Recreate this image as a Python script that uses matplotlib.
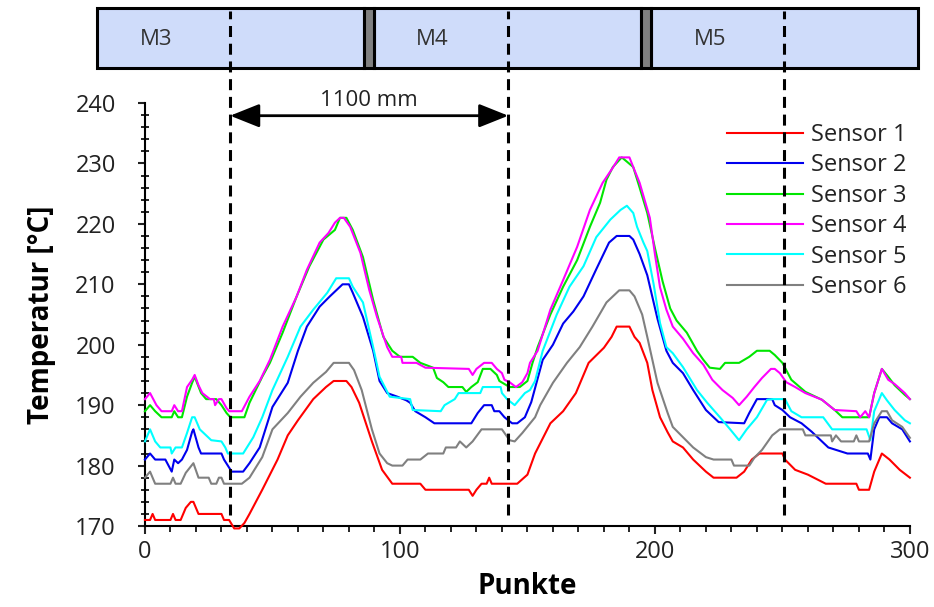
import matplotlib.pyplot as plt
from matplotlib.patches import Rectangle
from matplotlib.ticker import MultipleLocator

plt.rcParams['font.family'] = ['Open Sans', 'DejaVu Sans']

# Temperature curves as (Punkte, °C) break points
sensor1_x = [0, 2, 3, 4, 10, 11, 12, 14, 16, 18, 19, 21, 30, 31, 33, 35, 37, 39, 41, 46, 52, 56, 60, 66, 71, 74, 79, 81,
             84, 89, 93, 97, 108, 110, 127, 128.5, 130, 132, 134, 135, 136, 146, 150, 153, 159, 164, 169, 174, 180, 183,
             185, 190, 192, 194, 197, 199, 202, 205, 207, 211, 215, 220, 223, 232, 235, 238, 241, 250, 251, 255, 260,
             267, 279, 280, 284, 286, 289, 292, 296, 300]
sensor1_t = [171, 171, 172, 171, 171, 172, 171, 171, 173, 174, 174, 172, 172, 171, 171, 169.6, 169.6, 170.5, 172, 176,
             181, 185, 187.5, 191, 193, 194, 194, 193, 190.4, 184, 179.3, 177, 177, 176, 176, 175, 176, 177, 177, 178,
             177, 177, 178.5, 182, 187, 189, 192, 197, 199.5, 201.3, 203, 203, 201.3, 200.3, 197, 192.5, 188, 185.5,
             184, 183, 181, 179, 178, 178, 179, 181, 182, 182, 181, 179.3, 178.5, 177, 177, 176, 176, 179, 182, 181,
             179.3, 178]

sensor2_x = [0, 2, 4, 8, 10.5, 11.5, 13, 14.5, 16.5, 18.5, 19, 21, 22, 30, 31, 32.5, 34, 38.5, 41, 45, 50, 56, 60, 63.5,
             68.5, 72.5, 76.5, 77.5, 80, 81.5, 85.5, 89.5, 92, 95, 99, 102.5, 104, 106, 110, 113.5, 128, 130.5, 133,
             136, 137, 139, 141, 144, 146, 149, 151.5, 156, 160, 164, 168, 172, 177, 182, 185, 190, 191.5, 194, 197,
             201, 204.5, 207, 211, 215, 220, 225, 235, 237, 240, 246, 247, 250, 253, 257.5, 261.5, 268, 275.5, 283.5,
             284.5, 286, 288, 291, 293, 297, 300]
sensor2_t = [181, 182, 181, 181, 179, 181, 180.4, 181, 182.6, 185.6, 186, 183, 182, 182, 181, 180, 179, 179, 180.4, 183,
             189.7, 193.7, 199, 203, 206.3, 208, 209.6, 210, 210, 208.6, 204.6, 199, 194, 192, 191.4, 190.8, 190.4,
             189, 188, 187, 187, 188.7, 190, 190, 189, 189, 188, 187, 187, 188, 190.5, 197.5, 200, 203.5, 205.5, 208,
             212.5, 216.9, 218, 218, 217.4, 215, 211.5, 204.3, 199, 197, 195.3, 192.5, 189.2, 187.2, 187, 188.7, 191,
             191, 190, 189.2, 188, 187, 185.6, 183, 182, 182, 181, 186, 188, 188, 187, 186, 184]

sensor3_x = [0, 2, 4, 6.5, 10.5, 11.5, 13, 14.5, 16.5, 18.5, 19.5, 22, 24, 28, 30, 32, 33.5, 39, 41, 46, 49, 54, 59.5,
             64.5, 70, 74.5, 76.5, 79, 81.5, 85.5, 89.5, 93.5, 97, 100, 105, 108, 113, 114.5, 117, 119, 124.5, 126,
             128, 130.5, 132.5, 135.5, 138, 139, 143, 147, 150, 152, 154, 159, 164, 169.5, 174.5, 178.5, 181, 183.5,
             187, 189, 191.5, 194, 197, 200, 203, 206, 208.5, 212.5, 216.5, 219, 221.5, 225.5, 227.5, 233, 237, 240,
             245, 247, 250, 253.5, 259, 265.5, 270.5, 273.5, 284, 286, 289, 291.5, 294, 298, 300]
sensor3_t = [189, 190, 189, 188, 188, 189, 188, 188, 191.4, 193.7, 194.7, 192, 191, 191, 190, 188.7, 188, 188, 190.4,
             194.7, 197, 202, 208, 213, 217.4, 219, 221, 221, 219, 214.5, 207.4, 201.3, 199, 198, 198, 197, 196.2,
             194.5, 193.8, 193, 193, 192.2, 193, 193.8, 196, 196, 195, 194, 193, 193, 194, 197, 199.6, 205, 209.6,
             214, 219.5, 223.5, 227.3, 229.4, 231, 230.3, 229.4, 226, 221.8, 216, 210.5, 206, 204, 202, 199, 197.5,
             196.2, 196, 197, 197, 198, 199, 199, 198.3, 197, 194.2, 192.2, 190.9, 189.2, 188, 188, 192, 196, 194.7,
             193.3, 191.7, 191]

sensor4_x = [0, 2, 4.5, 6.5, 10.5, 11.5, 13, 14.5, 16.5, 18.5, 19.5, 21, 22.5, 25.5, 27, 27.5, 29, 30, 32, 33, 38, 41,
             45, 49, 54, 59.5, 63.5, 68.5, 72, 74.5, 76.5, 78, 80.5, 84.5, 88, 91, 95, 97, 100.5, 101, 106.5, 110, 127,
             128.5, 130, 133, 136, 138, 140, 141, 143, 145.5, 148, 150, 151, 154, 159, 164, 169.5, 174.5, 179.5, 183.5,
             186, 190, 191.5, 194, 198, 200, 202, 204.5, 207, 211, 215, 219, 222.5, 226.5, 230.5, 233, 236, 239, 242,
             245.5, 247, 249, 251.5, 255, 259, 265.5, 270.5, 279, 280.5, 282.5, 284, 286, 289, 291.5, 294, 298, 300]
sensor4_t = [191, 192, 190, 189, 189, 190, 189, 189, 193, 194.2, 195, 193.3, 192, 191, 191, 190, 191, 191, 189.5, 189,
             189, 191.4, 194, 197.5, 203, 208, 212.4, 216.9, 218.5, 220.2, 221, 221, 219.5, 215.2, 209, 204.6, 199.6,
             198, 198, 197, 197, 196.2, 196, 195, 196, 197, 197, 196, 195.3, 194.2, 193.8, 193, 193.8, 195.3, 197, 199,
             205.8, 210.7, 216.2, 222.3, 226.8, 229.3, 231, 231, 229.4, 226.8, 221, 215, 209.5, 205.8, 203, 201,
             198.6, 196.7, 194.2, 192.5, 191.2, 190, 191.4, 193, 194.5, 196, 196, 195.3, 193.8, 193, 192, 190.9,
             189.2, 189, 188, 189, 188, 192, 196, 194.2, 193.5, 192, 191]

sensor5_x = [0, 2, 4, 6, 10, 10.5, 12, 14.5, 16.5, 18.5, 19.5, 21.5, 24, 26, 30, 31.5, 32.5, 38.5, 42.5, 46, 50, 56,
             61, 66, 71.5, 75, 80, 81.5, 85.5, 89.5, 92, 96, 104, 105, 116, 117.5, 121.5, 123, 131.5, 132.5, 139.5,
             140, 142, 145, 146, 149, 151, 153, 156, 161.5, 166.5, 172, 177, 182.5, 186.5, 189, 191.5, 193, 195.5, 197,
             199.5, 202, 204.5, 207, 211, 216.5, 220.5, 225.5, 229.5, 233, 236, 240, 244, 246, 251, 253.5, 257.5, 266,
             269.5, 283, 284.5, 286, 289, 291, 294, 298, 300]
sensor5_t = [184, 186, 184, 183, 183, 182, 183, 183, 185.4, 188, 188, 186, 185, 184.2, 184, 183, 182, 182, 184.7, 188,
             192.5, 198, 203, 205.8, 208.6, 211, 211, 209.6, 207, 199.6, 194.7, 191.4, 191, 189.2, 189, 190, 191, 192,
             192, 193, 193, 192, 191, 190, 190.5, 192, 192.5, 194, 199, 205, 209.6, 213, 217.8, 220.7, 222.3, 223,
             221.8, 219.5, 216.9, 215.5, 210, 203.6, 199.6, 198.6, 196.3, 192.5, 190.4, 188, 186, 184.2, 186, 188,
             190.9, 191, 191, 189, 188, 188, 186, 186, 184.2, 189, 192, 190.8, 189.2, 187.5, 187]

sensor6_x = [0, 2, 4, 10, 11, 12, 14, 16, 19, 21, 25, 26, 28, 29, 30, 31, 38, 41, 46, 50, 56, 61, 66, 71, 74, 80, 82,
             85, 89, 92, 95, 97, 101, 103, 108, 111, 117, 118, 122, 123.5, 126, 128.5, 132, 140, 143, 145, 148, 153,
             155, 160, 165.5, 170.5, 175.5, 181, 186, 190, 192, 195, 197, 201, 205, 207, 211, 215, 220, 223, 230,
             231, 237, 239, 242, 246, 249, 258, 259, 269, 269.5, 271, 273, 278, 279, 280, 284, 286, 289, 291, 293,
             297, 300]
sensor6_t = [178, 179, 177, 177, 178, 177, 177, 178.8, 180.4, 178, 178, 177, 177, 178, 178, 177, 177, 178, 181.4, 186,
             188.7, 191.4, 193.7, 195.5, 197, 197, 195.8, 192.5, 186, 182, 180.4, 180, 180, 181, 181, 182, 182, 183,
             183, 184, 183, 184, 186, 186, 184.2, 184, 185.4, 188, 190, 193.7, 197, 199.6, 203, 207, 209, 209, 208,
             205, 201.3, 193.7, 188.7, 186.4, 184.7, 183, 181.4, 181, 181, 180, 180, 181.3, 182.6, 185, 186, 186, 185,
             185, 184, 185, 184, 184, 185, 184, 184, 187, 189, 189, 187.5, 186.4, 184.6]

series_x = [sensor1_x, sensor2_x, sensor3_x, sensor4_x, sensor5_x, sensor6_x]
series_t = [sensor1_t, sensor2_t, sensor3_t, sensor4_t, sensor5_t, sensor6_t]
labels = ['Sensor 1', 'Sensor 2', 'Sensor 3', 'Sensor 4', 'Sensor 5', 'Sensor 6']
colors = ['#ff0000', '#0000ee', '#00e600', '#ff00ff', '#00ffff', '#808080']

zones = ['M3', 'M4', 'M5']
marker_x = [33.4, 142.5, 250.8]
distance_label = '1100 mm'

fig = plt.figure(figsize=(9.34, 6.07), dpi=100)
ax = fig.add_axes([0.1552, 0.1334, 0.819, 0.6969])

for xs, ts, lab, col in zip(series_x, series_t, labels, colors):
    ax.plot(xs, ts, color=col, lw=1.5, label=lab, clip_on=False, zorder=3)

ax.set_xlim(0, 300)
ax.set_ylim(170, 240)
ax.xaxis.set_major_locator(MultipleLocator(100))
ax.xaxis.set_minor_locator(MultipleLocator(10))
ax.yaxis.set_major_locator(MultipleLocator(10))
ax.yaxis.set_minor_locator(MultipleLocator(2))
for side in ['top', 'right']:
    ax.spines[side].set_visible(False)
for side in ['left', 'bottom']:
    ax.spines[side].set_linewidth(1.5)
ax.tick_params(axis='x', which='major', direction='out', length=6, width=1.5, labelsize=17, pad=4, colors='#222222')
ax.tick_params(axis='x', which='minor', direction='out', length=4, width=1.2)
ax.tick_params(axis='y', which='major', direction='out', length=5, width=1.5, labelsize=17, pad=16, colors='#222222')
ax.tick_params(axis='y', which='minor', direction='inout', length=6, width=1.2)

ax.set_xlabel('Punkte', fontsize=20, fontweight='bold', labelpad=6)
ax.set_ylabel('Temperatur [°C]', fontsize=20, fontweight='bold', labelpad=14)

# zone bar above the plot (drawn in data units so the dashed lines line up)
bar_lo, bar_hi = 245.8, 255.8
bar_edges = [-18.8, 85.9, 89.8, 194.6, 198.5, 303.1]
for i, name in enumerate(zones):
    x0, x1 = bar_edges[2 * i], bar_edges[2 * i + 1]
    ax.add_patch(Rectangle((x0, bar_lo), x1 - x0, bar_hi - bar_lo, facecolor='#cfdcfa',
                           edgecolor='black', lw=2.2, clip_on=False, zorder=2))
    ax.text(x0 + 23, (bar_lo + bar_hi) / 2 - 0.3, name, fontsize=16, ha='center', va='center',
            color='#333333', clip_on=False)
for i in range(2):
    x0, x1 = bar_edges[2 * i + 1], bar_edges[2 * i + 2]
    ax.add_patch(Rectangle((x0, bar_lo), x1 - x0, bar_hi - bar_lo, facecolor='#808080',
                           edgecolor='black', lw=2.2, clip_on=False, zorder=2))

for mx in marker_x:
    ax.plot([mx, mx], [171.8, 255.3], color='black', lw=2.2, ls=(0, (3.6, 2.2)), clip_on=False, zorder=6)

ax.annotate('', xy=(marker_x[1], 237.9), xytext=(marker_x[0], 237.9),
            arrowprops=dict(arrowstyle='<|-|>,head_length=1.0,head_width=0.4', mutation_scale=18,
                            color='black', lw=2, shrinkA=0, shrinkB=0))
ax.text((marker_x[0] + marker_x[1]) / 2, 238.6, distance_label, fontsize=16, ha='center', va='bottom',
        color='#222222')

ax.legend(loc='upper left', bbox_to_anchor=(0.761, 0.9525), frameon=False, fontsize=17,
          handlelength=3.2, handletextpad=0.35, labelspacing=0.27, borderpad=0, borderaxespad=0,
          labelcolor='#222222')

fig.savefig('out.png', dpi=100)
